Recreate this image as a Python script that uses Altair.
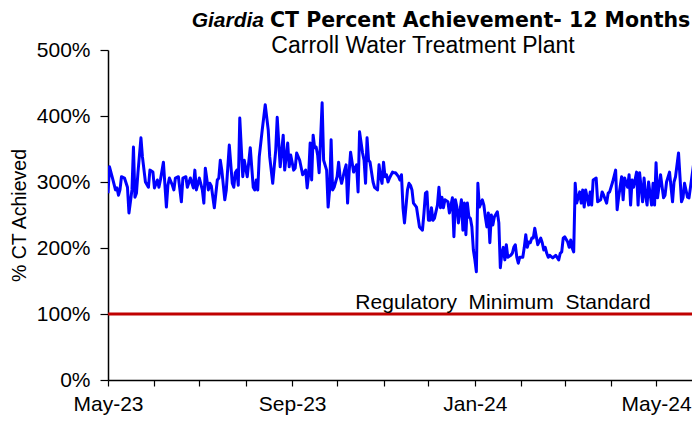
import altair as alt
import pandas as pd

START = "2023-05-01"

# days since START, and % CT achieved
day = [0, 1, 3, 5, 6, 7, 8, 9, 11, 13, 14, 16, 17, 18, 19, 20, 22, 23, 25, 27,
       28, 30, 31, 33, 34, 35, 37, 39, 40, 41, 43, 44, 45, 47, 49, 50, 52, 53, 55, 57,
       58, 59, 61, 63, 64, 65, 67, 68, 69, 71, 73, 74, 75, 76, 78, 79, 81, 83, 84, 85,
       86, 87, 88, 90, 91, 93, 94, 95, 97, 98, 99, 100, 101, 103, 105, 107, 108, 110, 112, 113,
       115, 117, 118, 120, 121, 122, 124, 125, 126, 128, 130, 132, 133, 134, 135, 136, 137, 138, 139, 140,
       141, 143, 144, 146, 147, 148, 149, 150, 151, 153, 154, 155, 156, 157, 158, 159, 160, 161, 162, 164,
       165, 166, 167, 168, 170, 171, 172, 173, 174, 175, 177, 178, 180, 181, 182, 183, 184, 185, 186, 187,
       188, 190, 191, 192, 194, 195, 196, 197, 198, 200, 201, 202, 203, 204, 206, 207, 208, 210, 211, 212,
       213, 214, 215, 216, 217, 218, 220, 221, 222, 223, 224, 225, 227, 228, 230, 231, 232, 233, 234, 236,
       237, 238, 239, 240, 241, 242, 243, 244, 245, 246, 247, 248, 250, 251, 252, 253, 254, 255, 256, 257,
       258, 260, 261, 262, 263, 264, 265, 266, 267, 269, 270, 271, 272, 273, 274, 275, 277, 278, 279, 280,
       281, 282, 283, 284, 285, 287, 289, 290, 291, 292, 293, 294, 295, 297, 299, 301, 302, 303, 304, 305,
       307, 308, 309, 310, 311, 312, 313, 315, 316, 317, 318, 319, 321, 322, 323, 324, 326, 327, 329, 330,
       331, 333, 334, 335, 337, 339, 340, 341, 343, 344, 345, 347, 348, 349, 350, 351, 353, 354, 355, 357,
       358, 359, 360, 361, 363, 364, 365, 366, 367, 369, 371, 372, 373, 375, 377, 378, 379, 381, 383, 384,
       385, 387, 388, 391, 393, 394, 395]

pct = [283, 323, 306, 288, 291, 280, 288, 308, 306, 292, 253, 288, 353, 277, 283, 314, 367, 338, 300, 292,
       318, 315, 291, 303, 292, 303, 330, 262, 295, 306, 295, 288, 306, 308, 270, 306, 308, 292, 306, 291,
       318, 288, 306, 288, 268, 321, 288, 298, 294, 261, 303, 306, 333, 318, 273, 288, 356, 298, 292, 314,
       318, 295, 397, 308, 333, 308, 330, 352, 292, 288, 303, 288, 338, 379, 417, 379, 338, 298, 348, 398,
       323, 371, 318, 359, 323, 341, 318, 321, 344, 333, 311, 318, 291, 311, 359, 303, 371, 352, 353, 341,
       314, 420, 333, 318, 262, 288, 364, 288, 292, 308, 330, 308, 298, 308, 318, 326, 268, 314, 345, 315,
       321, 326, 285, 376, 344, 333, 298, 367, 333, 330, 300, 292, 288, 326, 308, 298, 330, 308, 311, 300,
       306, 315, 314, 314, 308, 303, 311, 261, 238, 288, 298, 295, 288, 268, 262, 247, 232, 227, 253, 283,
       285, 242, 242, 261, 242, 245, 265, 292, 261, 277, 261, 273, 270, 253, 276, 217, 273, 262, 238, 273,
       227, 268, 220, 268, 247, 245, 232, 197, 182, 164, 298, 262, 273, 265, 247, 232, 253, 208, 250, 235,
       247, 255, 238, 170, 192, 201, 182, 205, 186, 189, 192, 201, 205, 186, 177, 186, 186, 201, 220, 201,
       209, 208, 215, 215, 230, 205, 215, 208, 197, 201, 192, 186, 189, 185, 189, 182, 192, 194, 215, 217,
       209, 201, 212, 200, 194, 298, 268, 285, 268, 288, 262, 288, 265, 285, 265, 303, 306, 270, 273, 285,
       280, 268, 283, 285, 300, 318, 258, 277, 308, 273, 306, 292, 311, 265, 303, 292, 315, 265, 314, 270,
       306, 280, 265, 300, 265, 298, 265, 329, 276, 311, 276, 280, 300, 315, 270, 300, 308, 344, 270, 276,
       298, 277, 276, 326, 276, 292, 288]

TITLE_ITALIC = "Giardia"
TITLE_REST = "CT Percent Achievement- 12 Months"
SUBTITLE = "Carroll Water Treatment Plant"
Y_TITLE = "% CT Achieved"
STANDARD_LABEL = "Regulatory\u00a0 Minimum\u00a0 Standard"
STANDARD = [100]
Y_TICKS = [0, 100, 200, 300, 400, 500]

FONT = "Liberation Sans"
WIDE_FONT = "DejaVu Sans"

dates = (pd.Timestamp(START) + pd.to_timedelta(day, unit="D")).strftime("%Y-%m-%d")
df = pd.DataFrame({"date": list(dates), "pct": pct, "idx": list(range(len(pct)))})

x_ticks = [alt.DateTime(year=2023 + (4 + i) // 12, month=(4 + i) % 12 + 1, date=1, utc=True)
           for i in range(13)]

x_scale = alt.Scale(type="utc",
                    domain=[alt.DateTime(year=2023, month=5, date=1, utc=True),
                            alt.DateTime(year=2024, month=5, date=25, utc=True)])
y_scale = alt.Scale(domain=[0, 500], nice=False, zero=True)

x_axis = alt.Axis(values=x_ticks,
                  labelExpr="utcmonth(datum.value) % 4 == 0 ? utcFormat(datum.value, '%b-%y') : ''",
                  labelOverlap=False, labelFlush=False, labelBound=False,
                  grid=False, tickSize=6, tickColor="black", tickWidth=1.2,
                  domainColor="black", domainWidth=1.5,
                  labelFont=FONT, labelFontSize=21, labelColor="black", labelPadding=7)

y_axis = alt.Axis(values=Y_TICKS, labelExpr="datum.value + '%'",
                  grid=False, tickSize=8, tickColor="black", tickWidth=1.2,
                  domainColor="black", domainWidth=1.5,
                  labelFont=FONT, labelFontSize=21, labelColor="black", labelPadding=10,
                  title=Y_TITLE, titleFont=FONT, titleFontSize=19.5, titleFontWeight="normal",
                  titleColor="black", titlePadding=7)

line = alt.Chart(df).mark_line(color="#0000FF", strokeWidth=3, strokeJoin="round", clip=True).encode(
    x=alt.X("date:T", scale=x_scale, axis=x_axis, title=None),
    y=alt.Y("pct:Q", scale=y_scale, axis=y_axis),
    order="idx:Q",
)

std_df = pd.DataFrame({"v": STANDARD, "label": [STANDARD_LABEL]})
rule = alt.Chart(std_df).mark_rule(color="#C00000", strokeWidth=3).encode(y=alt.Y("v:Q"))
std_text = alt.Chart(std_df).mark_text(font=FONT, fontSize=21, color="black", align="center",
                                       baseline="alphabetic", dy=-5).encode(
    x=alt.value(395), y=alt.Y("v:Q"), text="label:N")

t1 = alt.Chart(pd.DataFrame({"t": [TITLE_ITALIC]})).mark_text(
    font=FONT, fontSize=21, fontWeight="bold", fontStyle="italic", color="black",
    align="right", baseline="alphabetic").encode(x=alt.value(156), y=alt.value(-23), text="t:N")
t2 = alt.Chart(pd.DataFrame({"t": [TITLE_REST]})).mark_text(
    font=WIDE_FONT, fontSize=20.5, fontWeight="bold", color="black",
    align="left", baseline="alphabetic").encode(x=alt.value(162), y=alt.value(-23), text="t:N")
t3 = alt.Chart(pd.DataFrame({"t": [SUBTITLE]})).mark_text(
    font=FONT, fontSize=23, color="black",
    align="center", baseline="alphabetic").encode(x=alt.value(315), y=alt.value(3), text="t:N")

chart = alt.layer(line, rule, std_text, t1, t2, t3).properties(
    width=584, height=330,
    padding={"left": 100, "top": 42, "right": 0, "bottom": 37},
    autosize=alt.AutoSizeParams(type="none"),
    background="white",
).configure_view(stroke=None)

chart.save("out.html", embed_options={"renderer": "svg", "actions": False})
